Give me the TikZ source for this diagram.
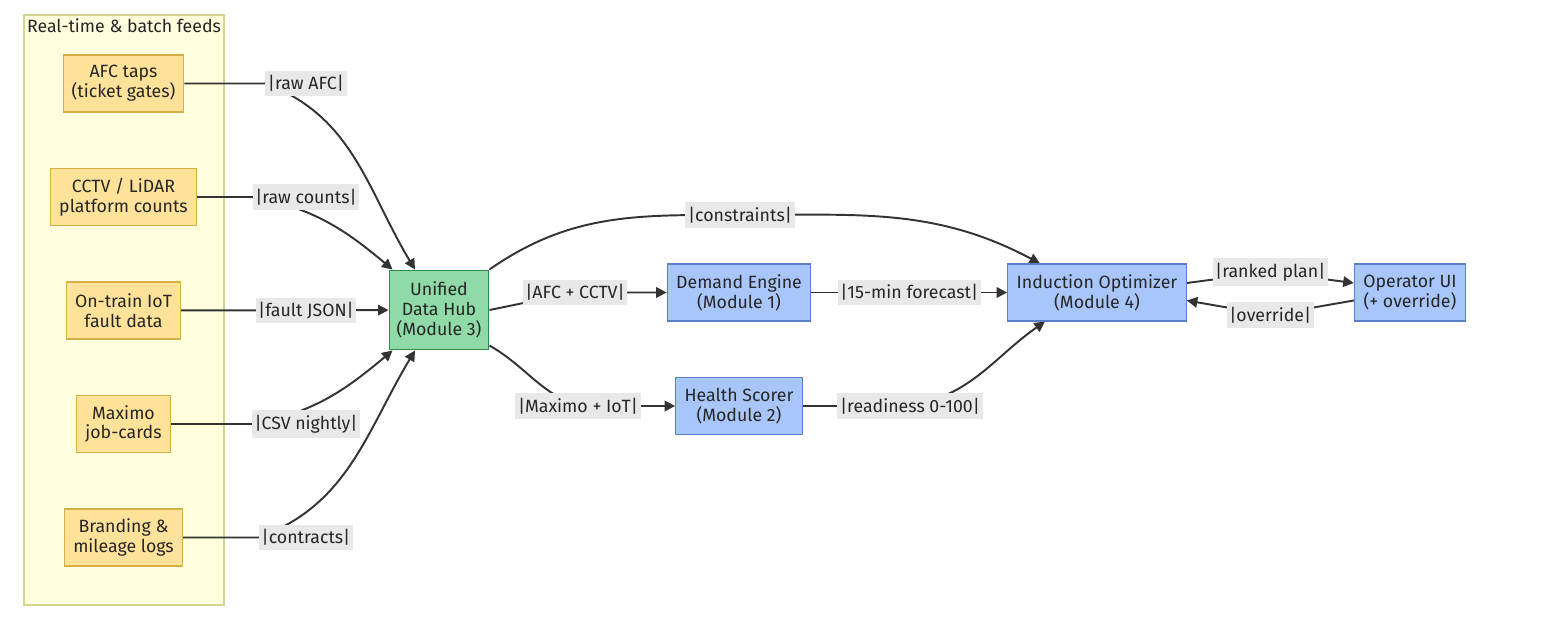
\documentclass[tikz,border=0pt]{standalone}
\usepackage{fontspec}
\setmainfont{Fira Sans}
\usepackage{tikz}
\usetikzlibrary{backgrounds, positioning, arrows.meta, calc}

\definecolor{groupfill}{HTML}{FFFFDE}
\definecolor{groupline}{HTML}{D4D48C}
\definecolor{feedfill}{HTML}{FFE29A}
\definecolor{feedline}{HTML}{D9AE45}
\definecolor{hubfill}{HTML}{8FDAA6}
\definecolor{hubline}{HTML}{2E8B4E}
\definecolor{modfill}{HTML}{A8C6FA}
\definecolor{modline}{HTML}{5A7EC8}
\definecolor{lblfill}{HTML}{E8E8E8}
\definecolor{ink}{HTML}{333333}

\begin{document}
\begin{tikzpicture}[>={Triangle[length=6pt,width=6pt]}, on grid, node distance=2.27cm,
    font=\fontsize{10.1}{11.3}\selectfont, text=black!85,
    feed/.style={draw=feedline, fill=feedfill, line width=0.6pt, align=center,
                 minimum height=1.14cm, inner xsep=0.17cm},
    hub/.style={draw=hubline, fill=hubfill, line width=1.1pt, align=center,
                minimum height=1.58cm, inner xsep=0.14cm},
    module/.style={draw=modline, fill=modfill, line width=0.6pt, align=center,
                   minimum height=1.14cm, inner xsep=0.18cm},
    lbl/.style={fill=lblfill, inner xsep=1.5pt, inner ysep=2.6pt},
    group/.style={draw=groupline, fill=groupfill, line width=0.6pt},
    flow/.style={->, draw=ink, line width=1.1pt}]
\useasboundingbox (0,0) rectangle (30.96,-12.44);

%% feeds
\node (grouptitle) at (2.48,-0.52) {Real-time \& batch feeds};
\node[feed] (afc) at (2.47,-1.67) {AFC taps\\(ticket gates)};
\node[feed] (cctv) [below=of afc] {CCTV / LiDAR\\platform counts};
\node[feed] (iot) [below=of cctv] {On-train IoT\\fault data};
\node[feed] (maximo) [below=of iot] {Maximo\\job-cards};
\node[feed] (brand) [below=of maximo] {Branding \&\\mileage logs};

%% modules
\node[hub] (hub) at (8.78,-6.2) {Unified\\Data Hub\\(Module 3)};
\node[module] (demand) at (14.78,-5.85) {Demand Engine\\(Module 1)};
\node[module] (health) [below=of demand] {Health Scorer\\(Module 2)};
\node[module] (opt) [right=7.16cm of demand] {Induction Optimizer\\(Module 4)};
\node[module] (op) [right=6.26cm of opt] {Operator UI\\(+ override)};

%% edge labels
\coordinate (lx) at (6.12,0);
\node[lbl] (lafc) at (afc -| lx) {|raw AFC|};
\node[lbl] (lcctv) at (cctv -| lx) {|raw counts|};
\node[lbl] (liot) at (iot -| lx) {|fault JSON|};
\node[lbl] (lmax) at (maximo -| lx) {|CSV nightly|};
\node[lbl] (lbrand) at (brand -| lx) {|contracts|};
\node[lbl] (lafcc) at (11.5,-5.85) {|AFC + CCTV|};
\node[lbl] (lmi) at (11.56,-8.12) {|Maximo + IoT|};
\node[lbl] (lcons) at (14.8,-4.3) {|constraints|};
\node[lbl] (lfore) at ($(demand.east)!0.5!(opt.west)$) {|15-min forecast|};
\node[lbl] (lread) at (18.2,-8.12) {|readiness 0-100|};
\node[lbl] (lrank) at ($(opt.east)!0.5!(op.west)+(0,0.41)$) {|ranked plan|};
\node[lbl] (lover) at ($(opt.east)!0.5!(op.west)+(0,-0.45)$) {|override|};

\begin{scope}[on background layer]
\draw[group] (0.48,-0.3) rectangle (4.48,-12.1);
\draw[flow] (afc) -- (lafc.west) to[out=-20,in=121] ([xshift=-0.48cm]hub.north);
\draw[flow] (cctv) -- (lcctv.west) to[out=-10,in=140] ([xshift=0.08cm]hub.north west);
\draw[flow] (iot) -- (hub);
\draw[flow] (maximo) -- (lmax.west) to[out=10,in=-140] ([xshift=0.08cm]hub.south west);
\draw[flow] (brand) -- (lbrand.west) to[out=20,in=-121] ([xshift=-0.48cm]hub.south);
\draw[flow] (hub.east) -- (lafcc.center) -- (demand);
\draw[flow] ([yshift=0.1cm]hub.south east) to[out=-30,in=160] (lmi.center) -- (health);
\draw[flow] (hub.north east) to[out=35,in=180] (lcons.center) to[out=0,in=152] ([xshift=-1.14cm]opt.north);
\draw[flow] (demand) -- (opt);
\draw[flow] (health) -- (lread.center) to[out=10,in=-145] ([xshift=-1.04cm]opt.south);
\draw[flow] ([yshift=0.19cm]opt.east) -- (lrank.center) -- ([yshift=0.19cm]op.west);
\draw[flow] ([yshift=-0.16cm]op.west) -- (lover.center) -- ([yshift=-0.16cm]opt.east);
\end{scope}
\end{tikzpicture}
\end{document}
